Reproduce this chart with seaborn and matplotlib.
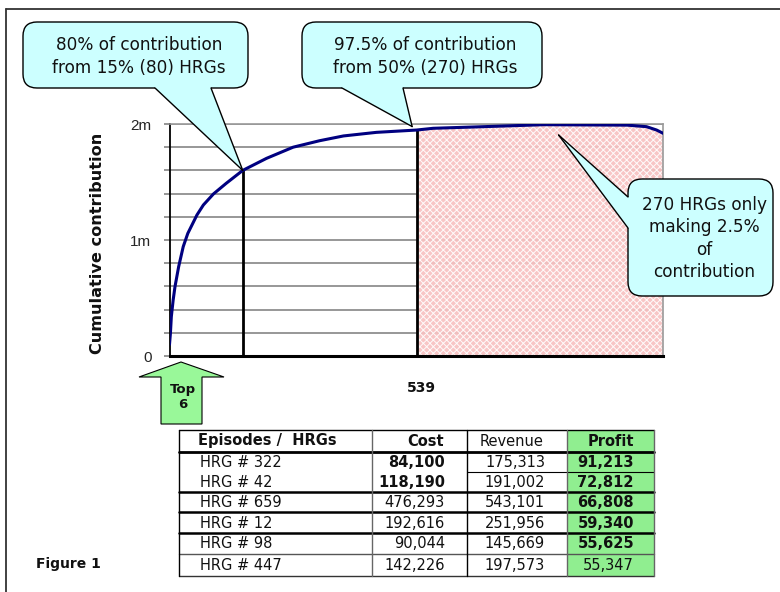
import numpy as np
import pandas as pd
import matplotlib
matplotlib.use("Agg")
import matplotlib.pyplot as plt
import seaborn as sns
from matplotlib.patches import FancyBboxPatch, Polygon, Rectangle
from matplotlib.lines import Line2D

# Cumulative contribution (in £m) by HRG rank, HRGs sorted by profit
hrg_rank = [0, 1, 2, 4, 6, 10, 15, 20, 30, 37, 48, 62, 80, 106, 135, 164, 190, 226,
            270, 288, 343, 409, 500, 521, 532, 539]
cum_contrib_m = [0.10, 0.195, 0.339, 0.483, 0.598, 0.770, 0.943, 1.057, 1.216, 1.302,
                 1.397, 1.489, 1.60, 1.704, 1.80, 1.856, 1.897, 1.928,
                 1.948, 1.963, 1.977, 1.994, 1.99, 1.977, 1.948, 1.92]

# Cut-off points marked on the curve
cutoff_80 = 80
cutoff_50pct = 270
total_hrgs = 539

ytick_values = [0.0, 0.2, 0.4, 0.6, 0.8, 1.0, 1.2, 1.4, 1.6, 1.8, 2.0]
ytick_labels = {0.0: "0", 1.0: "1m", 2.0: "2m"}

# Top six HRGs by profit
table_hrgs = ["HRG # 322", "HRG # 42", "HRG # 659", "HRG # 12", "HRG # 98", "HRG # 447"]
table_cost = [84100, 118190, 476293, 192616, 90044, 142226]
table_revenue = [175313, 191002, 543101, 251956, 145669, 197573]
table_profit = [91213, 72812, 66808, 59340, 55625, 55347]
cost_bold = [True, True, False, False, False, False]
profit_bold = [True, True, True, True, True, False]

callout_texts = [
    "80% of contribution\nfrom 15% (80) HRGs",
    "97.5% of contribution\nfrom 50% (270) HRGs",
    "270 HRGs only\nmaking 2.5%\nof\ncontribution",
]

W, H = 780, 592
CYAN = "#ccffff"
NAVY = "#000080"
GREEN = "#90ee90"
ARROW_GREEN = "#99f899"

sns.set_theme(style="white")
plt.rcParams["font.family"] = ["DejaVu Sans"]
plt.rcParams["hatch.linewidth"] = 0.7

fig = plt.figure(figsize=(W / 100, H / 100), dpi=100)
fig.patch.set_facecolor("white")


def frac_box(x0, y0, x1, y1):
    return [x0 / W, 1 - y1 / H, (x1 - x0) / W, (y1 - y0) / H]


ax = fig.add_axes(frac_box(169.5, 124, 663, 356))
ax.set_xlim(0, total_hrgs)
ax.set_ylim(0, 2.0)

df = pd.DataFrame({"rank": hrg_rank, "cum": cum_contrib_m})
lookup = dict(zip(hrg_rank, cum_contrib_m))

# Horizontal gridlines every 0.2m
ax.set_yticks(ytick_values)
ax.set_yticklabels([ytick_labels.get(v, "") for v in ytick_values])
ax.yaxis.grid(True, color="#7a7a7a", lw=1.1)
ax.set_axisbelow(True)
ax.set_xticks([])

# Shaded tail: the bottom half of HRGs
tail = df[df["rank"] >= cutoff_50pct]
ax.fill_between(tail["rank"], 0, tail["cum"], facecolor="#f8c2c2",
                edgecolor="white", hatch="xxxxx", linewidth=0, alpha=0.93, zorder=1)

# Cut-off verticals
ax.vlines([cutoff_80, cutoff_50pct], 0, [lookup[cutoff_80], lookup[cutoff_50pct]],
          colors="black", lw=2, zorder=3)

sns.lineplot(data=df, x="rank", y="cum", color=NAVY, lw=2.2, ax=ax, zorder=4)
ax.set_ylabel("")
ax.set_xlabel("")
ax.text((421 - 169.5) / (663 - 169.5), -0.14, str(total_hrgs), transform=ax.transAxes,
        ha="center", va="center", fontsize=10, fontweight="bold", color="#111111")

for side in ("top", "right"):
    ax.spines[side].set_color("#9a9a9a")
    ax.spines[side].set_linewidth(1.2)
ax.spines["left"].set_color("black")
ax.spines["left"].set_linewidth(1.3)
ax.spines["bottom"].set_color("black")
ax.spines["bottom"].set_linewidth(2.2)
ax.tick_params(axis="y", left=True, length=4, width=1.1, color="#7a7a7a",
               pad=9, labelsize=11, labelfontfamily="Liberation Sans")

# Overlay in pixel units for callouts, table and frame
ov = fig.add_axes([0, 0, 1, 1], zorder=5)
ov.set_xlim(0, W)
ov.set_ylim(H, 0)
ov.axis("off")
ov.patch.set_alpha(0)


def to_px(x, y):
    fxy = fig.transFigure.inverted().transform(ax.transData.transform((x, y)))
    return fxy[0] * W, (1 - fxy[1]) * H


def callout(x0, y0, x1, y1, text, tip, b1, b2, inward, cx, cy, fs=12.2, ls=1.35):
    box = FancyBboxPatch((x0, y0), x1 - x0, y1 - y0,
                         boxstyle="round,pad=0,rounding_size=14",
                         fc=CYAN, ec="black", lw=1.0, zorder=6)
    ov.add_patch(box)
    b1i = (b1[0] + inward[0], b1[1] + inward[1])
    b2i = (b2[0] + inward[0], b2[1] + inward[1])
    ov.add_patch(Polygon([b1i, b1, tip, b2, b2i], closed=True, fc=CYAN,
                         ec="none", zorder=6.5))
    for b in (b1, b2):
        ov.add_line(Line2D([b[0], tip[0]], [b[1], tip[1]], color="black",
                           lw=1.0, zorder=6.6))
    ov.text(cx, cy, text, ha="center", va="center", fontsize=fs,
            linespacing=ls, color="#111111", zorder=7)


callout(23, 22, 248, 88, callout_texts[0], to_px(cutoff_80, lookup[cutoff_80]),
        (155, 88), (211, 88), (0, -3), 139, 56.5)
callout(302, 22, 542, 88, callout_texts[1],
        to_px(cutoff_50pct - 5, lookup[cutoff_50pct] + 0.03),
        (342, 88), (403, 88), (0, -3), 425, 56.5)
callout(628, 179, 773, 296, callout_texts[2], to_px(425, 1.905),
        (628, 197), (628, 228), (3, 0), 704, 238.5, fs=12.2, ls=1.32)

# "Top 6" arrow
ov.add_patch(Polygon([(181, 362), (139, 377), (161, 377), (161, 424), (202, 424),
                      (202, 377), (224, 377)], closed=True, fc=ARROW_GREEN,
                     ec="black", lw=0.8, zorder=6))
ov.text(183, 397, "Top\n6", ha="center", va="center", fontsize=9.5,
        fontweight="bold", linespacing=1.2, color="#111111", zorder=7)

# Table
col_x = [179, 372, 467, 567, 654]
row_y = [430, 452, 472, 492, 512, 533, 554, 576]
ov.add_patch(Rectangle((col_x[3], row_y[0]), col_x[4] - col_x[3], row_y[-1] - row_y[0],
                       fc=GREEN, ec="none", zorder=5))
ov.add_line(Line2D([col_x[0], col_x[4]], [row_y[0]] * 2, color="black", lw=1.0, zorder=6))
ov.add_line(Line2D([col_x[0], col_x[4]], [row_y[1]] * 2, color="black", lw=2.0, zorder=6))
ov.add_line(Line2D([col_x[2], col_x[4]], [row_y[2]] * 2, color="black", lw=0.8, zorder=6))
for y in row_y[3:6]:
    ov.add_line(Line2D([col_x[0], col_x[4]], [y, y], color="black", lw=1.8, zorder=6))
ov.add_line(Line2D([col_x[0], col_x[4]], [row_y[6]] * 2, color="#555555", lw=1.0, zorder=6))
ov.add_line(Line2D([col_x[0], col_x[4]], [row_y[7]] * 2, color="#333333", lw=1.0, zorder=6))
for x, c in zip(col_x, ["black", "#666666", "black", "#666666", "#666666"]):
    ov.add_line(Line2D([x, x], [row_y[0], row_y[-1]], color=c, lw=1.0, zorder=6))

hy = (row_y[0] + row_y[1]) / 2
tfs = 10.5
ov.text(198, hy, "Episodes /  HRGs", ha="left", va="center", fontsize=tfs,
        fontweight="bold", color="#111111", zorder=7)
ov.text(444, hy, "Cost", ha="right", va="center", fontsize=tfs, fontweight="bold",
        color="#111111", zorder=7)
ov.text(512, hy, "Revenue", ha="center", va="center", fontsize=tfs, color="#111111", zorder=7)
ov.text(634, hy, "Profit", ha="right", va="center", fontsize=tfs, fontweight="bold",
        color="#111111", zorder=7)

for i, name in enumerate(table_hrgs):
    cy = (row_y[i + 1] + row_y[i + 2]) / 2 + 0.5
    ov.text(200, cy, name, ha="left", va="center", fontsize=tfs, color="#111111", zorder=7)
    ov.text(445, cy, f"{table_cost[i]:,}", ha="right", va="center", fontsize=tfs,
            fontweight="bold" if cost_bold[i] else "normal", color="#111111", zorder=7)
    ov.text(545, cy, f"{table_revenue[i]:,}", ha="right", va="center", fontsize=tfs,
            color="#111111", zorder=7)
    ov.text(634, cy, f"{table_profit[i]:,}", ha="right", va="center", fontsize=tfs,
            fontweight="bold" if profit_bold[i] else "normal", color="#111111", zorder=7)

# Axis title and figure caption
ov.text(98, 243, "Cumulative contribution", rotation=90, ha="center", va="center",
        fontsize=11.6, fontweight="bold", color="#111111", zorder=7)
ov.text(36, 564, "Figure 1", ha="left", va="center", fontsize=10,
        fontweight="bold", color="#111111", zorder=7)

# Outer frame (top and left edges)
ov.add_line(Line2D([6, W], [9, 9], color="#333333", lw=1.3, zorder=7))
ov.add_line(Line2D([6, 6], [9, H], color="#333333", lw=1.3, zorder=7))

fig.savefig("out.png", dpi=100)
